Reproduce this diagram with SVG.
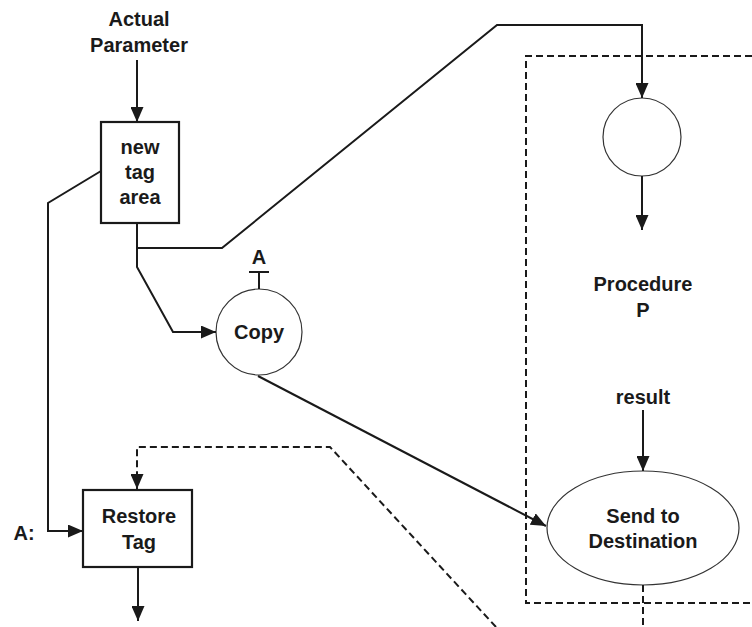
<svg xmlns="http://www.w3.org/2000/svg" width="752" height="627" viewBox="0 0 752 627">
  <style>
    .lbl { font-family: "Liberation Sans", Arial, sans-serif; font-size: 20px; font-weight: bold; fill: #1a1a1a; text-anchor: middle; }
    .box { fill: none; stroke: #1a1a1a; stroke-width: 2.2; }
    .ring { fill: none; stroke: #333; stroke-width: 1.2; }
    .wire { fill: none; stroke: #1a1a1a; stroke-width: 2; }
    .dash { fill: none; stroke: #1a1a1a; stroke-width: 2; stroke-dasharray: 7 4; }
  </style>
  <defs>
    <marker id="arrow" viewBox="0 0 15 13" refX="15" refY="6.5" markerWidth="15" markerHeight="13" markerUnits="userSpaceOnUse" orient="auto">
      <path d="M0,0 L15,6.5 L0,13 Z" fill="#1a1a1a"/>
    </marker>
  </defs>
  <rect width="752" height="627" fill="#ffffff"/>

  <!-- procedure boundary -->
  <g id="procedure-p">
    <path class="dash" d="M752,56 H526 V603 H752"/>
    <text class="lbl" x="643" y="291">Procedure</text>
    <text class="lbl" x="643" y="317">P</text>
  </g>

  <g id="actual-parameter">
    <text class="lbl" x="139" y="26">Actual</text>
    <text class="lbl" x="139" y="52">Parameter</text>
  </g>

  <g id="new-tag-area">
    <rect class="box" x="101" y="122" width="78" height="101"/>
    <text class="lbl" x="140" y="154">new</text>
    <text class="lbl" x="140" y="179">tag</text>
    <text class="lbl" x="140" y="204">area</text>
  </g>

  <g id="copy">
    <circle class="ring" cx="259" cy="332" r="43"/>
    <text class="lbl" x="259" y="339">Copy</text>
    <text class="lbl" x="259" y="264">A</text>
    <path class="wire" d="M249,272 H269 M259,272 V289"/>
  </g>

  <g id="entry">
    <circle class="ring" cx="642" cy="137" r="39"/>
  </g>

  <g id="result">
    <text class="lbl" x="643" y="404">result</text>
  </g>

  <g id="send-to-destination">
    <ellipse class="ring" cx="643" cy="528" rx="96" ry="57"/>
    <text class="lbl" x="643" y="523">Send to</text>
    <text class="lbl" x="643" y="548">Destination</text>
  </g>

  <g id="restore-tag">
    <rect class="box" x="83" y="490" width="109" height="77"/>
    <text class="lbl" x="139" y="523">Restore</text>
    <text class="lbl" x="139" y="549">Tag</text>
    <text class="lbl" x="24" y="540">A:</text>
  </g>

  <g id="connectors">
    <path class="wire" d="M137,60 V122" marker-end="url(#arrow)"/>
    <path class="wire" d="M101,171 L48,203 V531 H83" marker-end="url(#arrow)"/>
    <path class="wire" d="M137,223 V267 L173,332 H216" marker-end="url(#arrow)"/>
    <path class="wire" d="M137,248 H222 L497,25 H642 V98" marker-end="url(#arrow)"/>
    <path class="wire" d="M642,176 V230" marker-end="url(#arrow)"/>
    <path class="wire" d="M258,376 L546,526" marker-end="url(#arrow)"/>
    <path class="wire" d="M643,410 V471" marker-end="url(#arrow)"/>
    <path class="wire" d="M138,567 V621" marker-end="url(#arrow)"/>
    <path class="dash" d="M496,627 L330,447 H137 V489" marker-end="url(#arrow)"/>
    <path class="dash" d="M643,585 V627"/>
  </g>
</svg>
